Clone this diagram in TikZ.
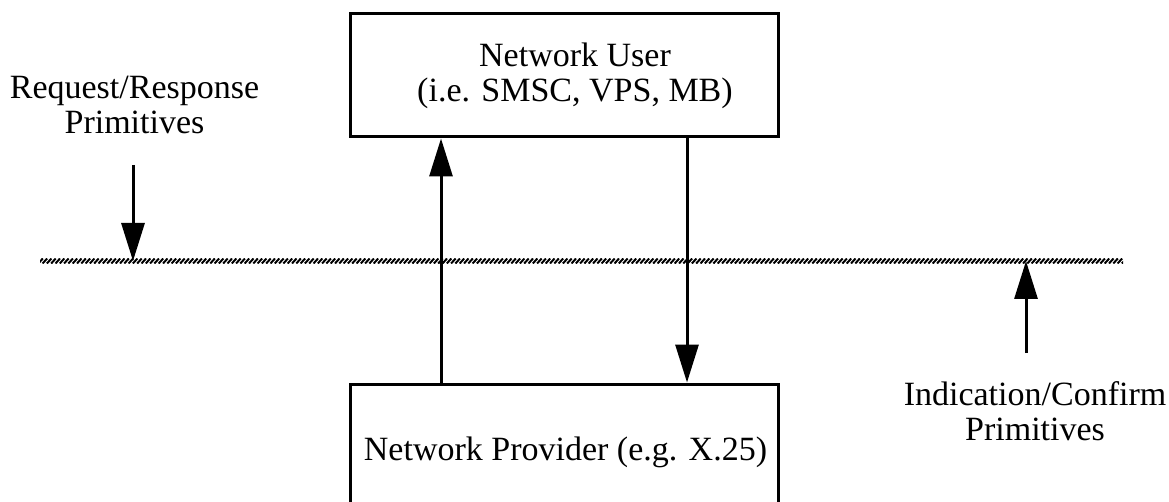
\documentclass[tikz,border=0pt]{standalone}
\usepackage{fontspec}
\setmainfont{Liberation Serif}
\usetikzlibrary{arrows.meta}
\begin{document}
\begin{tikzpicture}[x=1pt,y=-1pt,
  box/.style={draw,line width=3pt,minimum width=428pt,inner sep=0pt},
  lbl/.style={font=\fontsize{34}{35}\selectfont,align=center,inner sep=0pt,anchor=base},
  arr/.style={line width=3pt,-{Triangle[length=38pt,width=23pt]}}]
\useasboundingbox (0,0) rectangle (1169,502);
\node[box,minimum height=123pt] (user) at (564,75.5) {};
\node[box,minimum height=132pt] (prov) at (564,450) {};
\node[lbl] (usert) at (575,102) {Network User\\(i.e. SMSC, VPS, MB)};
\node[lbl] (provt) at (565.5,460) {Network Provider (e.g. X.25)};
\node[lbl] (req) at (134.5,134) {Request/Response\\Primitives};
\node[lbl] (ind) at (1035,440) {Indication/Confirm\\Primitives};
% hatched layer line
\begin{scope}
\clip (40,258.8) rectangle (1123,263.2);
\foreach \x in {34,38.3,...,1126} \draw[line width=2pt] (\x,263.5) -- (\x+4.5,258.5);
\end{scope}
\coordinate (layer) at (0,261);
\coordinate (upx) at (441,0);
\coordinate (downx) at (687,0);
\coordinate (reqs) at (133,165);
\coordinate (inds) at (1026,353);
\draw[arr] (prov.north -| upx) -- (user.south -| upx);
\draw[arr] (user.south -| downx) -- (prov.north -| downx);
\draw[arr] (reqs) -- (reqs |- layer);
\draw[arr] (inds) -- (inds |- layer);
\end{tikzpicture}
\end{document}
